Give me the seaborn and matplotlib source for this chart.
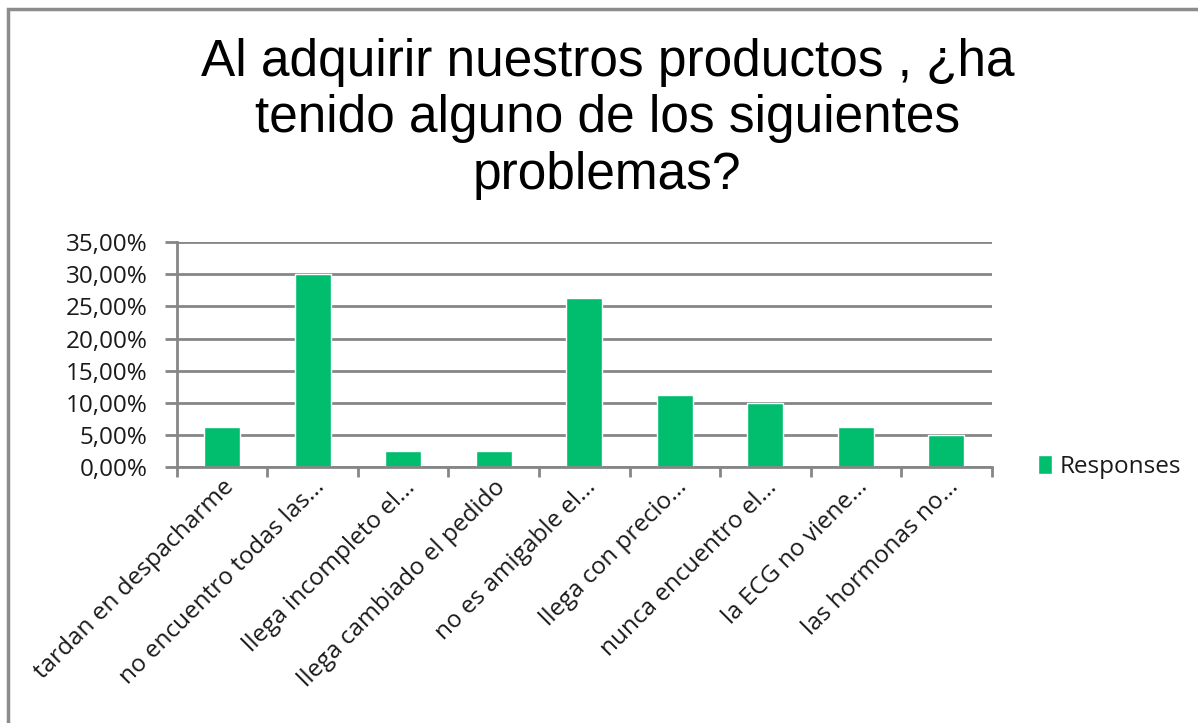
import matplotlib
matplotlib.use("Agg")
import matplotlib.pyplot as plt
import matplotlib.patches as mpatches
from matplotlib.ticker import FuncFormatter, MultipleLocator
import seaborn as sns
import pandas as pd

# data
categories = [
    "tardan en despacharme",
    "no encuentro todas las...",
    "llega incompleto el...",
    "llega cambiado el pedido",
    "no es amigable el...",
    "llega con precio...",
    "nunca encuentro el...",
    "la ECG no viene...",
    "las hormonas no...",
]
responses = [6.25, 30.0, 2.5, 2.5, 26.25, 11.25, 10.0, 6.25, 5.0]
series_name = "Responses"
title_text = "Al adquirir nuestros productos , ¿ha\ntenido alguno de los siguientes\nproblemas?"

df = pd.DataFrame({"cat": categories, "val": responses, "serie": series_name})

sns.set_theme(style="white")
plt.rcParams["font.family"] = ["Open Sans", "DejaVu Sans"]

fig = plt.figure(figsize=(11.98, 7.23), dpi=100)
ax = fig.add_axes([0.1477, 0.354, 0.680, 0.311])

green = "#00BE6E"
sns.barplot(data=df, x="cat", y="val", hue="serie", palette=[green],
            width=0.4, ax=ax, saturation=1, legend=True)

ax.set_ylim(0, 35)
ax.set_xlim(-0.5, len(categories) - 0.5)
ax.yaxis.set_major_locator(MultipleLocator(5))
ax.yaxis.set_major_formatter(FuncFormatter(lambda v, p: f"{v:.2f}%".replace(".", ",")))
ax.grid(axis="y", color="#868686", linewidth=2)
ax.set_axisbelow(True)
ax.set_xlabel("")
ax.set_ylabel("")

for s in ["top", "right"]:
    ax.spines[s].set_visible(False)
for s in ["left", "bottom"]:
    ax.spines[s].set_color("#868686")
    ax.spines[s].set_linewidth(2)

txt = "#1a1a1a"
# category-boundary ticks on x
ax.set_xticks(range(len(categories)))
ax.set_xticklabels(categories, rotation=45, ha="right", rotation_mode="anchor",
                   fontsize=17.5, color=txt)
ax.set_xticks([i - 0.5 for i in range(len(categories) + 1)], minor=True)
ax.tick_params(axis="x", which="major", length=0, pad=6)
ax.tick_params(axis="x", which="minor", length=7, width=2, color="#868686", direction="out")
ax.tick_params(axis="y", length=9, width=2, color="#868686", direction="out",
               labelsize=17.5, labelcolor=txt, pad=12)
ax.tick_params(left=True, bottom=True, which="both")

leg = ax.legend(loc="center left", bbox_to_anchor=(1.03, 0.0), frameon=False,
                fontsize=17.5, handlelength=0.6, handleheight=0.8, handletextpad=0.3)
for t in leg.get_texts():
    t.set_color(txt)

fig.text(0.507, 0.948, title_text, ha="center", va="top", color="black",
         fontsize=37, family=["Liberation Sans", "DejaVu Sans"], linespacing=1.2)

# chart-area border like the spreadsheet export
fig.patches.append(mpatches.Rectangle((8 / 1198, -0.05), 1.1, 1 - 9 / 723 + 0.05,
                                      transform=fig.transFigure, fill=False,
                                      edgecolor="#8c8c8c", linewidth=2.5))

fig.savefig("out.png", dpi=100)
